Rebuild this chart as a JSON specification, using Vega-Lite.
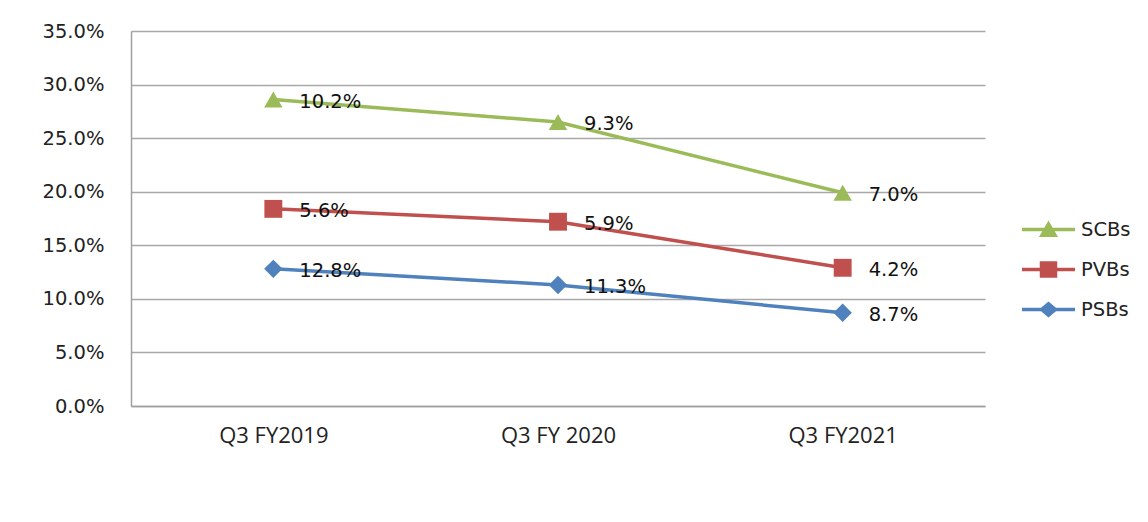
{
  "$schema": "https://vega.github.io/schema/vega-lite/v6.json",
  "autosize": "none",
  "width": 854,
  "height": 375,
  "padding": {"left": 131, "top": 31, "right": 163, "bottom": 116},
  "background": "white",
  "config": {
    "view": {"stroke": null},
    "axis": {"domainColor": "#a0a0a0", "domainWidth": 1.5, "gridColor": "#a8a8a8", "gridWidth": 1.5, "ticks": false, "title": null}
  },
  "data": {
    "values": [
      {"period": "Q3 FY2019", "series": "PSBs", "value": 0.128},
      {"period": "Q3 FY 2020", "series": "PSBs", "value": 0.113},
      {"period": "Q3 FY2021", "series": "PSBs", "value": 0.087},
      {"period": "Q3 FY2019", "series": "PVBs", "value": 0.056},
      {"period": "Q3 FY 2020", "series": "PVBs", "value": 0.059},
      {"period": "Q3 FY2021", "series": "PVBs", "value": 0.042},
      {"period": "Q3 FY2019", "series": "SCBs", "value": 0.102},
      {"period": "Q3 FY 2020", "series": "SCBs", "value": 0.093},
      {"period": "Q3 FY2021", "series": "SCBs", "value": 0.070}
    ]
  },
  "transform": [
    {"stack": "value", "groupby": ["period"], "sort": [{"field": "series", "order": "ascending"}], "as": ["y0", "y1"]}
  ],
  "encoding": {
    "x": {
      "field": "period", "type": "nominal",
      "sort": ["Q3 FY2019", "Q3 FY 2020", "Q3 FY2021"],
      "scale": {"type": "point", "padding": 0.5},
      "axis": {"labelAngle": 0, "labelFont": "Open Sans", "labelFontSize": 22, "labelColor": "#222", "labelPadding": 19, "grid": false}
    },
    "y": {
      "field": "y1", "type": "quantitative",
      "scale": {"domain": [0, 0.35], "nice": false},
      "axis": {"values": [0, 0.05, 0.1, 0.15, 0.2, 0.25, 0.3, 0.35], "format": ".1%", "labelFont": "DejaVu Sans", "labelFontSize": 19.5, "labelColor": "#222", "labelPadding": 27, "grid": true}
    },
    "color": {
      "field": "series", "type": "nominal",
      "scale": {"domain": ["SCBs", "PVBs", "PSBs"], "range": ["#9BBB59", "#C0504D", "#4F81BD"]}
    }
  },
  "layer": [
    {
      "mark": {"type": "line", "strokeWidth": 3.5},
      "encoding": {
        "color": {
          "field": "series", "type": "nominal",
          "scale": {"domain": ["SCBs", "PVBs", "PSBs"], "range": ["#9BBB59", "#C0504D", "#4F81BD"]},
          "legend": {
            "title": null,
            "orient": "none",
            "legendX": 891,
            "legendY": 179,
            "symbolSize": 2809,
            "clipHeight": 39,
            "rowPadding": 1,
            "labelOffset": 6,
            "labelFont": "DejaVu Sans",
            "labelFontSize": 19.5,
            "labelColor": "#222",
            "padding": 0,
            "encode": {
              "symbols": {
                "update": {
                  "shape": {"signal": "datum.value === 'SCBs' ? 'M-1,-0.066H1V0.066H-1Z M0,-0.34L0.36,0.28H-0.36Z' : datum.value === 'PVBs' ? 'M-1,-0.066H1V0.066H-1Z M-0.33,-0.31H0.33V0.31H-0.33Z' : 'M-1,-0.066H1V0.066H-1Z M0,-0.3L0.36,0L0,0.3L-0.36,0Z'"},
                  "fill": {"scale": "color", "field": "value"},
                  "fillOpacity": {"value": 1},
                  "strokeWidth": {"value": 0},
                  "size": {"value": 2809}
                }
              }
            }
          }
        }
      }
    },
    {
      "transform": [{"filter": "datum.series === 'SCBs'"}],
      "mark": {"type": "point", "filled": true, "opacity": 1, "size": 340, "shape": "triangle-up"}
    },
    {
      "transform": [{"filter": "datum.series === 'PVBs'"}],
      "mark": {"type": "point", "filled": true, "opacity": 1, "size": 320, "shape": "square"}
    },
    {
      "transform": [{"filter": "datum.series === 'PSBs'"}],
      "mark": {"type": "point", "filled": true, "opacity": 1, "size": 340, "shape": "diamond"}
    },
    {
      "mark": {"type": "text", "align": "left", "baseline": "middle", "dx": 26, "dy": 2, "font": "DejaVu Sans", "fontSize": 19.5, "color": "#111"},
      "encoding": {
        "text": {"field": "value", "type": "quantitative", "format": ".1%"},
        "color": {"value": "#111"}
      }
    }
  ]
}
